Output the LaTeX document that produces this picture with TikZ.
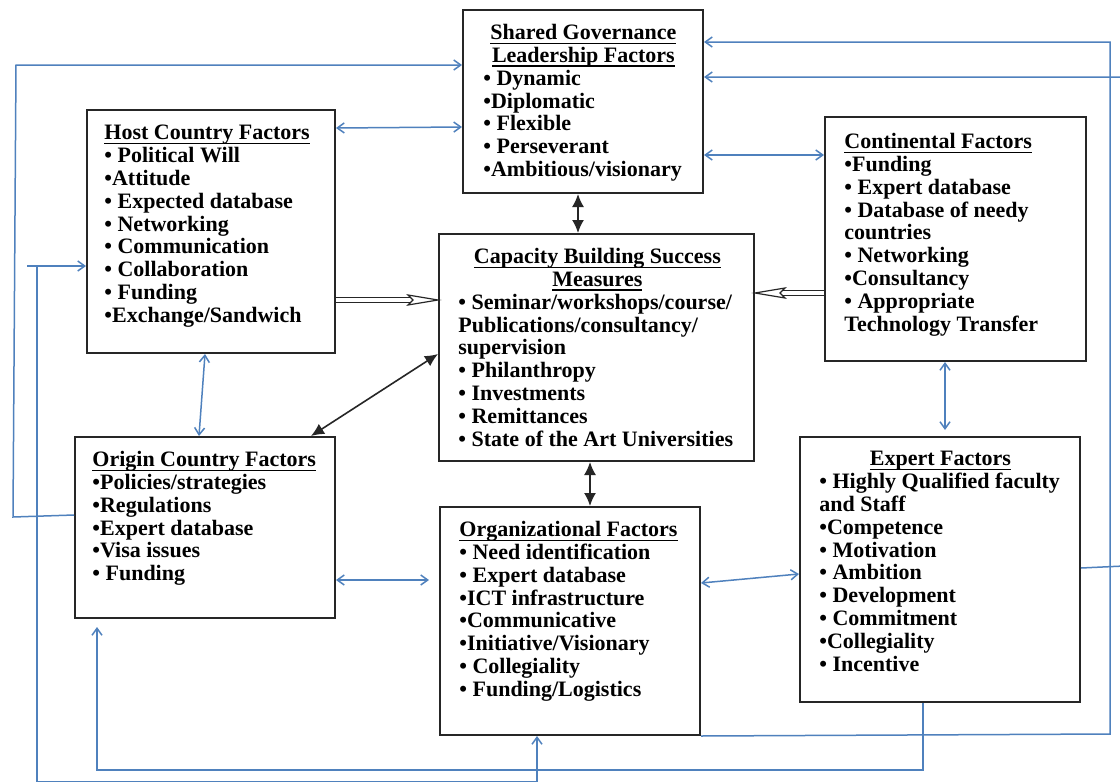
\documentclass[tikz,border=0pt]{standalone}
\usepackage{fontspec}
\setmainfont{Liberation Serif}
\usetikzlibrary{arrows.meta,fit,calc}
\definecolor{lnblue}{RGB}{79,129,189}
\newcommand{\myul}[1]{\leavevmode\setbox0=\hbox{#1}\rlap{\smash{\rule[-2.2pt]{\wd0}{0.7pt}}}\box0}
\begin{document}
\begin{tikzpicture}[x=0.5pt,y=-0.5pt,
  box/.style={draw=black!85, line width=1pt, inner sep=0pt, fill=white},
  txt/.style={anchor=north west, inner sep=0pt, align=left, font=\fontsize{11}{11.4}\selectfont\bfseries},
  bl/.style={draw=lnblue, line width=0.75pt, >={Straight Barb[length=3.5pt,width=5pt]}},
  bk/.style={draw=black!85, line width=0.8pt, >={Latex[length=6.5pt,width=6pt]}},
  dbl/.style={draw=black!85, line width=0.6pt, double=white, double distance=2pt},
  hd/.style={draw=black!85, line width=0.6pt, fill=white, line join=miter}]
\useasboundingbox (0,0) rectangle (1120,782);
\fill[white] (0,0) rectangle (1120,782);

% boxes
\node[box, fit={(463,10) (703,193)}] (sg) {};
\node[box, fit={(87,110) (335,353)}] (host) {};
\node[box, fit={(825,117) (1086,361)}] (cont) {};
\node[box, fit={(439,234) (754,461)}] (cap) {};
\node[box, fit={(75,437) (335,618)}] (origin) {};
\node[box, fit={(440,507) (700,735)}] (org) {};
\node[box, fit={(800,437) (1080,702)}] (expert) {};

% texts
\node[txt] (sgt) at (483,24) {\makebox[100pt][c]{\myul{Shared Governance}}\\\makebox[100pt][c]{\myul{Leadership Factors}}\\• Dynamic\\•Diplomatic\\• Flexible\\• Perseverant\\•Ambitious/visionary};
\node[txt] (hostt) at (104,125) {\myul{Host Country Factors}\\• Political Will\\•Attitude\\• Expected database\\• Networking\\• Communication\\• Collaboration\\• Funding\\•Exchange/Sandwich};
\node[txt] (contt) at (844,133) {\myul{Continental Factors}\\•Funding\\• Expert database\\• Database of needy\\countries\\• Networking\\•Consultancy\\• Appropriate\\Technology Transfer};
\node[txt] (capt) at (458,248) {\makebox[139pt][c]{\myul{Capacity Building Success}}\\\makebox[139pt][c]{\myul{Measures}}\\• Seminar/workshops/course/\\Publications/consultancy/\\supervision\\• Philanthropy\\• Investments\\• Remittances\\• State of the Art Universities};
\node[txt] (origint) at (92,451) {\myul{Origin Country Factors}\\•Policies/strategies\\•Regulations\\•Expert database\\•Visa issues\\• Funding};
\node[txt] (orgt) at (459,521) {\myul{Organizational Factors}\\• Need identification\\• Expert database\\•ICT infrastructure\\•Communicative\\•Initiative/Visionary\\• Collegiality\\• Funding/Logistics};
\node[txt] (expertt) at (819,451) {\makebox[121pt][c]{\myul{Expert Factors}}\\• Highly Qualified faculty\\and Staff\\•Competence\\• Motivation\\• Ambition\\• Development\\• Commitment\\•Collegiality\\• Incentive};

% blue connectors
\draw[bl,->] (origin.west |- 0,515) -- (13,517) -- (16,65) -- (sg.west |- 0,65);
\draw[bl,<->] (host.east |- 0,128) -- (sg.west |- 0,127);
\draw[bl,<->] (sg.east |- 0,155) -- (cont.west |- 0,155);
\draw[bl,->] (org.south east) -- (1110,734) -- (1110,42) -- (sg.east |- 0,42);
\draw[bl,->] (expert.east |- 0,568) -- (1124,566) -- (1124,77) -- (sg.east |- 0,77);
\draw[bl] (27,266) -- (37,266);
\draw[bl,<->] (host.west |- 0,266) -- (37,266) -- (37,782) -- (537,782) -- (org.south -| 537,0);
\draw[bl,->,shorten >=4pt] (expert.south -| 923,0) -- (923,770) -- (97,770) -- (origin.south -| 97,0);
\draw[bl,<->] (host.south -| 205,0) -- (origin.north -| 199,0);
\draw[bl,<->,shorten >=3pt] (cont.south -| 945,0) -- (expert.north -| 945,0);
\draw[bl,<->,shorten >=5pt] (origin.east |- 0,580) -- (org.west |- 0,580);
\draw[bl,<->] (org.east |- 0,583) -- (expert.west |- 0,574);

% black connectors
\draw[bk,<->] (sg.south -| 578,0) -- (cap.north -| 578,0);
\draw[bk,<->] (cap.west |- 0,354) -- (origin.north -| 311,0);
\draw[bk,<->] (cap.south -| 590,0) -- (org.north -| 590,0);

% hollow double arrows
\draw[dbl] (host.east |- 0,300) -- ($(cap.west |- 0,300)+(-26,0)$);
\draw[hd] (cap.west |- 0,300) -- ++(-30,-5) -- ++(5,5) -- ++(-5,5) -- cycle;
\draw[dbl] (cont.west |- 0,293) -- ($(cap.east |- 0,293)+(26,0)$);
\draw[hd] (cap.east |- 0,293) -- ++(30,-5) -- ++(-5,5) -- ++(5,5) -- cycle;
\end{tikzpicture}
\end{document}
